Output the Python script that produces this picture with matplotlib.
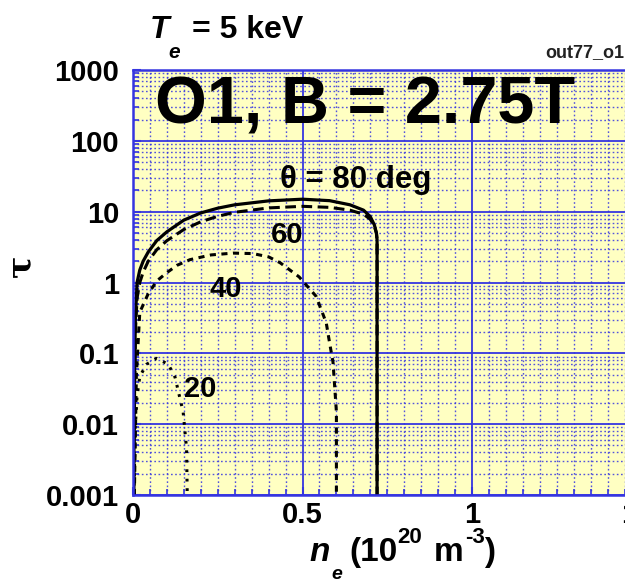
import numpy as np
import matplotlib.pyplot as plt
from matplotlib.ticker import FixedLocator, MultipleLocator, FixedFormatter

plt.rcParams['font.family'] = ['Liberation Sans', 'DejaVu Sans']
plt.rcParams['font.weight'] = 'bold'

# density n_e (1e20 m^-3) vs optical depth tau, one curve per angle
n80 = [0.002, 0.004, 0.007, 0.012, 0.02, 0.03, 0.045, 0.07, 0.10, 0.15, 0.20, 0.25, 0.30,
       0.40, 0.50, 0.58, 0.64, 0.68, 0.70, 0.712, 0.718, 0.72, 0.72]
t80 = [0.001, 0.03, 0.3, 1.0, 1.5, 2.0, 2.7, 3.9, 5.2, 7.6, 9.6, 11.2, 12.5,
       14.2, 15.0, 14.3, 12.5, 10.5, 8.5, 6.5, 5.0, 4.0, 0.001]

n60 = [0.002, 0.005, 0.008, 0.012, 0.02, 0.03, 0.045, 0.07, 0.10, 0.15, 0.20, 0.25, 0.30,
       0.40, 0.50, 0.58, 0.64, 0.68, 0.70, 0.712, 0.718, 0.72, 0.72]
t60 = [0.001, 0.04, 0.25, 0.6, 1.0, 1.4, 2.0, 2.9, 3.9, 5.6, 7.2, 8.6, 9.8,
       11.3, 11.9, 11.5, 10.5, 9.2, 7.8, 6.2, 5.0, 4.0, 0.001]

n40 = [0.004, 0.01, 0.02, 0.044, 0.07, 0.10, 0.13, 0.168, 0.23, 0.295, 0.354, 0.40, 0.434,
       0.49, 0.54, 0.57, 0.58, 0.59, 0.60, 0.60]
t40 = [0.001, 0.05, 0.38, 0.68, 1.05, 1.38, 1.75, 2.1, 2.45, 2.6, 2.56, 2.3, 1.9,
       1.2, 0.64, 0.27, 0.14, 0.075, 0.015, 0.001]

n20 = [0.003, 0.006, 0.012, 0.02, 0.04, 0.07, 0.104, 0.124, 0.148, 0.158, 0.16]
t20 = [0.001, 0.008, 0.025, 0.047, 0.07, 0.085, 0.07, 0.046, 0.0148, 0.0045, 0.001]

yticks = [1e-3, 1e-2, 1e-1, 1, 10, 100, 1000]
ylabels = ['0.001', '0.01', '0.1', '1', '10', '100', '1000']
xticks = [0, 0.5, 1, 1.5]
xlabels = ['0', '0.5', '1', '1.5']

W, H = 625, 582
blue = '#3535e0'


def px(x, y):
    return x / W, 1 - y / H


fig = plt.figure(figsize=(W / 100, H / 100), dpi=100)
ax = fig.add_axes([133 / W, 1 - 495 / H, 1.5 * 339 / W, 425 / H])
ax.set_facecolor('#ffffc2')
ax.set_yscale('log')
ax.set_xlim(0, 1.5)
ax.set_ylim(1e-3, 1e3)

ax.xaxis.set_major_locator(FixedLocator(xticks))
ax.xaxis.set_major_formatter(FixedFormatter(xlabels))
ax.xaxis.set_minor_locator(MultipleLocator(0.05))
ax.yaxis.set_major_locator(FixedLocator(yticks))
ax.yaxis.set_major_formatter(FixedFormatter(ylabels))
ax.yaxis.set_minor_locator(FixedLocator(
    [m * 10.0 ** e for e in range(-3, 3) for m in range(2, 10)]))
ax.yaxis.set_minor_formatter(FixedFormatter([]))

ax.grid(which='major', color=blue, lw=1.3, ls='-')
ax.grid(which='minor', color=blue, lw=1.0, ls=(0, (1.2, 1.8)), alpha=0.85)
ax.set_axisbelow(True)
for s in ax.spines.values():
    s.set_color(blue)
    s.set_linewidth(1.8)
ax.tick_params(which='both', direction='in', color=blue, labelsize=21)
ax.tick_params(which='major', length=6, width=1.5)
ax.tick_params(which='minor', length=4, width=1.2)
ax.tick_params(axis='y', pad=10)
ax.tick_params(axis='x', pad=4)

ax.plot(n80, t80, color='k', lw=2.3, ls='-')
ax.plot(n60, t60, color='k', lw=2.2, ls=(0, (3.5, 1.8)))
ax.plot(n40, t40, color='k', lw=2.2, ls=(0, (2.0, 1.8)))
ax.plot(n20, t20, color='k', lw=2.2, ls=(0, (0.9, 2.2)))

ax.text(0.434, 28, 'θ = 80 deg', fontsize=22.5, ha='left', va='center')
ax.text(0.454, 4.75, '60', fontsize=21, ha='center', va='center')
ax.text(0.274, 0.82, '40', fontsize=21, ha='center', va='center')
ax.text(0.197, 0.031, '20', fontsize=21, ha='center', va='center')

# header texts
fig.text(*px(365, 124), 'O1, B = 2.75T', fontsize=48, ha='center', va='baseline')
fig.text(*px(150, 38), 'T', fontsize=23, style='italic', va='baseline')
fig.text(*px(168, 58), 'e', fontsize=15, style='italic', va='baseline')
fig.text(*px(192, 38), '= 5 keV', fontsize=23, va='baseline')
fig.text(*px(624, 57), 'out77_o1', fontsize=13, ha='right', va='baseline',
         color='#222222')

# axis titles
fig.text(*px(21, 266), 'τ', fontsize=24, family=['DejaVu Serif'],
         rotation=90, ha='center', va='center')
fig.text(*px(309, 561), 'n', fontsize=24, style='italic', va='baseline')
fig.text(*px(331, 579), 'e', fontsize=14, style='italic', va='baseline')
fig.text(*px(349, 561), '(10', fontsize=24, va='baseline')
fig.text(*px(397, 543), '20', fontsize=16, va='baseline')
fig.text(*px(434, 561), 'm', fontsize=24, va='baseline')
fig.text(*px(465, 543), '-3', fontsize=16, va='baseline')
fig.text(*px(484, 561), ')', fontsize=24, va='baseline')

fig.savefig('out.png', dpi=100)
